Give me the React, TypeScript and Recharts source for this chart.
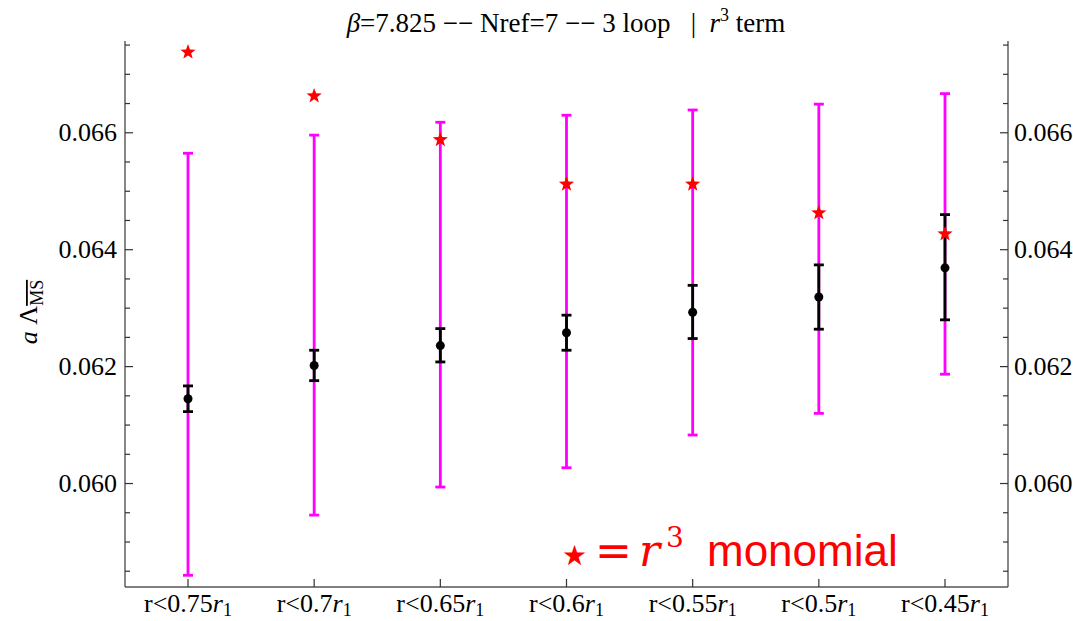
import React from "react";
import { ComposedChart, Line, XAxis, YAxis, ErrorBar } from "recharts";

// fit ranges r < c * r1
const cutoffs = ["0.75", "0.7", "0.65", "0.6", "0.55", "0.5", "0.45"];

// black points: central value with statistical error
const fitValue = [0.06145, 0.06202, 0.06236, 0.06258, 0.06293, 0.06319, 0.06369];
const fitLow = [0.06123, 0.06176, 0.06208, 0.06228, 0.06248, 0.06264, 0.0628];
const fitHigh = [0.06167, 0.06228, 0.06265, 0.06288, 0.06339, 0.06374, 0.0646];

// magenta: total (systematic) band
const systLow = [0.05843, 0.05946, 0.05994, 0.06027, 0.06083, 0.0612, 0.06187];
const systHigh = [0.06565, 0.06596, 0.06618, 0.0663, 0.06639, 0.06649, 0.06667];

// red stars: r^3 monomial
const monomial = [0.06738, 0.06663, 0.06588, 0.06512, 0.06512, 0.06463, 0.06427];

const yTicks = [
  0.0585, 0.059, 0.0595, 0.06, 0.0605, 0.061, 0.0615, 0.062, 0.0625, 0.063,
  0.0635, 0.064, 0.0645, 0.065, 0.0655, 0.066, 0.0665, 0.067, 0.0675,
];
const yLabelled = [0.06, 0.062, 0.064, 0.066];
const Y_MIN = 0.05823;
const Y_MAX = 0.06757;

const FRAME = "#555";
const SERIF = "'Liberation Serif', 'Times New Roman', serif";

const data = cutoffs.map((c, i) => {
  const mid = (systLow[i] + systHigh[i]) / 2;
  return {
    name: c,
    fit: fitValue[i],
    fitErr: [fitValue[i] - fitLow[i], fitHigh[i] - fitValue[i]],
    syst: mid,
    systErr: [mid - systLow[i], systHigh[i] - mid],
    mono: monomial[i],
  };
});

const isMajor = (v: number) => yLabelled.some((m) => Math.abs(m - v) < 1e-9);

function LeftTick({ x, y, payload }: any) {
  const major = isMajor(payload.value);
  return (
    <g>
      <line x1={x} x2={x + (major ? 8 : 5)} y1={y} y2={y} stroke="#333" strokeWidth={1.2} />
      {major && (
        <text x={x - 8} y={y + 8.5} textAnchor="end" fontFamily={SERIF} fontSize={26} fill="#000">
          {payload.value.toFixed(3)}
        </text>
      )}
    </g>
  );
}

function RightTick({ x, y, payload }: any) {
  const major = isMajor(payload.value);
  return (
    <g>
      <line x1={x} x2={x - (major ? 8 : 5)} y1={y} y2={y} stroke="#333" strokeWidth={1.2} />
      {major && (
        <text x={x + 6} y={y + 8.5} textAnchor="start" fontFamily={SERIF} fontSize={26} fill="#000">
          {payload.value.toFixed(3)}
        </text>
      )}
    </g>
  );
}

function BottomTick({ x, y, payload }: any) {
  return (
    <g>
      <line x1={x} x2={x} y1={y} y2={y - 8} stroke="#333" strokeWidth={1.2} />
      <text x={x} y={y + 25} textAnchor="middle" fontFamily={SERIF} fontSize={26} fill="#000">
        {"r<" + payload.value}
        <tspan fontStyle="italic">r</tspan>
        <tspan fontSize={18} dy={4}>1</tspan>
      </text>
    </g>
  );
}

function StarDot({ cx, cy, index }: any) {
  const pts: string[] = [];
  for (let k = 0; k < 10; k++) {
    const r = k % 2 === 0 ? 8 : 3.3;
    const a = -Math.PI / 2 + (k * Math.PI) / 5;
    pts.push(`${cx + r * Math.cos(a)},${cy + r * Math.sin(a)}`);
  }
  return <polygon key={index} points={pts.join(" ")} fill="#ff0000" />;
}

export default function App() {
  return (
    <div style={{ position: "absolute", left: 0, top: 0, width: 1073, height: 621, background: "#fff" }}>
      <ComposedChart width={1073} height={621} data={data} margin={{ top: 41, right: 0, bottom: 0, left: 0 }}>
        <XAxis
          xAxisId="top"
          dataKey="name"
          orientation="top"
          height={0}
          tick={false}
          tickLine={false}
          axisLine={{ stroke: FRAME, strokeWidth: 1.4 }}
        />
        <XAxis
          dataKey="name"
          height={34}
          interval={0}
          padding={{ left: 63, right: 63 }}
          tickSize={0}
          tickMargin={0}
          tickLine={false}
          axisLine={{ stroke: FRAME, strokeWidth: 1.4 }}
          tick={<BottomTick />}
        />
        <YAxis
          yAxisId="left"
          type="number"
          width={125}
          domain={[Y_MIN, Y_MAX]}
          allowDataOverflow
          ticks={yTicks}
          interval={0}
          tickSize={0}
          tickMargin={0}
          tickLine={false}
          axisLine={{ stroke: FRAME, strokeWidth: 1.4 }}
          tick={<LeftTick />}
        />
        <YAxis
          yAxisId="right"
          orientation="right"
          type="number"
          width={65}
          domain={[Y_MIN, Y_MAX]}
          allowDataOverflow
          ticks={yTicks}
          interval={0}
          tickSize={0}
          tickMargin={0}
          tickLine={false}
          axisLine={{ stroke: FRAME, strokeWidth: 1.4 }}
          tick={<RightTick />}
        />
        <Line
          yAxisId="left"
          dataKey="syst"
          stroke="none"
          dot={false}
          activeDot={false}
          legendType="none"
          isAnimationActive={false}
        >
          <ErrorBar dataKey="systErr" direction="y" width={5} stroke="#ff00ff" strokeWidth={2.8} isAnimationActive={false} />
        </Line>
        <Line
          yAxisId="left"
          dataKey="fit"
          stroke="none"
          dot={{ r: 4.5, fill: "#000", stroke: "#000", strokeWidth: 0 }}
          activeDot={false}
          legendType="none"
          isAnimationActive={false}
        >
          <ErrorBar dataKey="fitErr" direction="y" width={5} stroke="#000" strokeWidth={2.8} isAnimationActive={false} />
        </Line>
        <Line
          yAxisId="left"
          dataKey="mono"
          stroke="none"
          dot={<StarDot />}
          activeDot={false}
          legendType="none"
          isAnimationActive={false}
        />
      </ComposedChart>
      <svg width={1073} height={621} style={{ position: "absolute", left: 0, top: 0, pointerEvents: "none" }}>
        <text x={566} y={32} textAnchor="middle" fontFamily={SERIF} fontSize={27} fill="#000">
          <tspan fontStyle="italic">β</tspan>
          {"=7.825 −− Nref=7 −− 3 loop\u00a0\u00a0 |\u00a0\u00a0"}
          <tspan fontStyle="italic">r</tspan>
          <tspan fontSize={18} dy={-11}>3</tspan>
          <tspan dy={11}>{" term"}</tspan>
        </text>
        <text
          transform="translate(37,312) rotate(-90)"
          textAnchor="middle"
          fontFamily={SERIF}
          fontSize={26}
          fill="#000"
        >
          <tspan fontStyle="italic">a</tspan>
          {" Λ"}
          <tspan fontSize={18} dy={6} style={{ textDecoration: "overline" }}>
            MS
          </tspan>
        </text>
        <text fill="#ff0000" fontSize={44}>
          <tspan x={562} y={565} fontFamily="'DejaVu Sans', sans-serif" fontSize={28}>★</tspan>
          <tspan x={595} y={566} fontFamily="'DejaVu Sans', sans-serif">=</tspan>
          <tspan x={639} y={566} fontFamily="'DejaVu Serif', serif" fontStyle="italic">r</tspan>
          <tspan x={666} y={547} fontFamily="'DejaVu Serif', serif" fontSize={28}>3</tspan>
          <tspan x={707} y={566} fontFamily="'Liberation Sans', Arial, sans-serif">monomial</tspan>
        </text>
      </svg>
    </div>
  );
}
